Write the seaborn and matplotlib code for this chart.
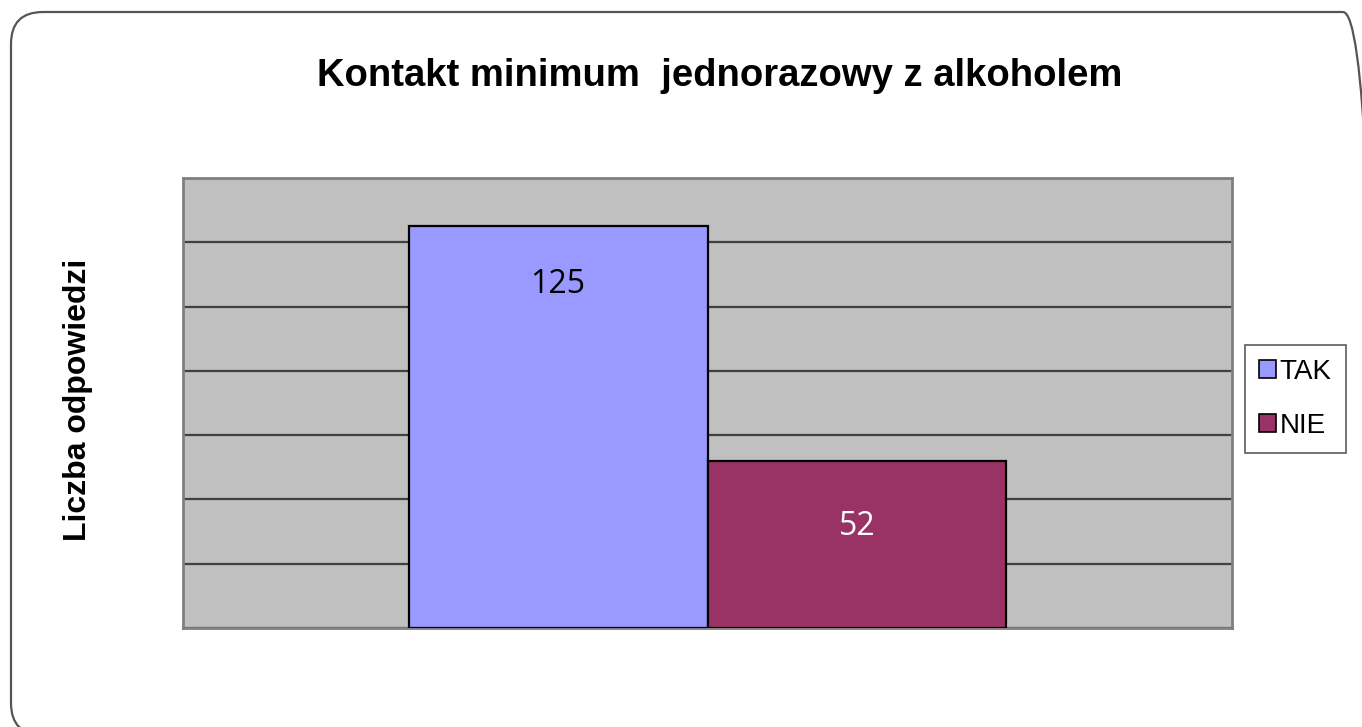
import pandas as pd
import matplotlib.pyplot as plt
import seaborn as sns
from matplotlib.patches import FancyBboxPatch, Patch

# Dane z wykresu
kategorie = ["TAK", "NIE"]
wartosci = [125, 52]
kolory = ["#9999FF", "#993366"]
kolory_etykiet = ["black", "white"]

df = pd.DataFrame({"grupa": ["" for _ in kategorie], "odpowiedz": kategorie, "liczba": wartosci})

sns.set_style("white")
plt.rcParams["font.family"] = ["Liberation Sans", "DejaVu Sans"]
plt.rcParams["text.color"] = "black"

fig = plt.figure(figsize=(13.62, 7.27), dpi=100)
ax = fig.add_axes([183 / 1362, 1 - 628 / 727, (1232 - 183) / 1362, (628 - 178) / 727])

# Ramka wokol calego wykresu
ramka = FancyBboxPatch((0.11, -0.08), 13.64, 7.23, boxstyle="round,pad=0,rounding_size=0.32",
                       transform=fig.dpi_scale_trans, facecolor="none", edgecolor="#555555",
                       linewidth=1.6, zorder=0)
fig.patches.append(ramka)

sns.barplot(data=df, x="grupa", y="liczba", hue="odpowiedz", palette=kolory, width=0.57,
            saturation=1, edgecolor="black", linewidth=1.6, legend=False, ax=ax, zorder=3)

ax.set_facecolor("#C0C0C0")
ax.set_xlim(-0.5, 0.5)
ax.set_ylim(0, 140)
ax.set_yticks(range(0, 141, 20))
ax.yaxis.grid(True, color="#404040", linewidth=1.6, zorder=1)
ax.set_axisbelow(True)
ax.tick_params(left=False, bottom=False, labelleft=False, labelbottom=False)
for s in ax.spines.values():
    s.set_color("#808080")
    s.set_linewidth(2)
ax.set_xlabel("")
ax.set_ylabel("")

fig.text(78 / 1362, 1 - 400 / 727, "Liczba odpowiedzi", rotation=90, ha="center", va="center",
         fontsize=23, fontweight="bold", color="black")

# Etykiety wartosci
for kontener, kol, pad in zip(ax.containers, kolory_etykiet, [-54, -59]):
    ax.bar_label(kontener, labels=[str(int(v)) for v in kontener.datavalues],
                 label_type="edge", padding=pad, color=kol, fontsize=23,
                 family=["Open Sans", "DejaVu Sans"])

fig.text(720 / 1362, 1 - 76 / 727, "Kontakt minimum  jednorazowy z alkoholem",
         ha="center", va="center", fontsize=27.5, fontweight="bold", color="black")

uchwyty = [Patch(facecolor=c, edgecolor="black", linewidth=1.2) for c in kolory]
leg = fig.legend(uchwyty, kategorie, loc="upper left", bbox_to_anchor=(1245 / 1362, 1 - 345 / 727),
                 frameon=True, fancybox=False, edgecolor="#333333", fontsize=20,
                 handlelength=0.6, handleheight=0.6, handletextpad=0.15,
                 labelspacing=1.0, borderpad=0.5, borderaxespad=0)
leg.get_frame().set_linewidth(1.2)
for t in leg.get_texts():
    t.set_color("black")

fig.savefig("out.png", dpi=100)
